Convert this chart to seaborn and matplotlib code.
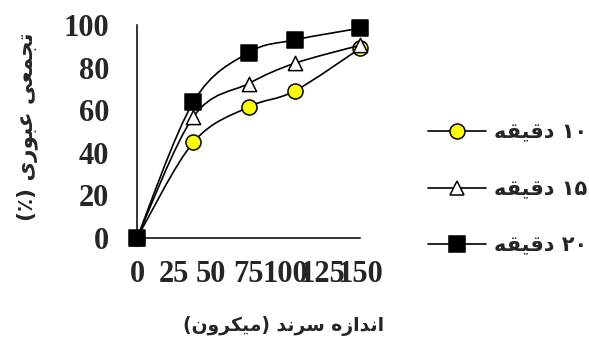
import numpy as np
import pandas as pd
import matplotlib
matplotlib.use("Agg")
import matplotlib.pyplot as plt
from matplotlib.path import Path
from matplotlib.patches import PathPatch
from matplotlib.lines import Line2D
import seaborn as sns

# Sieve size (micron) and cumulative passing (%) for each sieving time
sizes = [0, 38, 75, 106, 150]
pass_10 = [0, 45, 61.5, 69, 89]
pass_15 = [0, 57, 72.5, 82, 90.5]
pass_20 = [0, 64, 87, 93, 98.5]

series_labels = ["۱۰ دقیقه", "۱۵ دقیقه", "۲۰ دقیقه"]
x_ticks = [0, 25, 50, 75, 100, 125, 150]
y_ticks = [0, 20, 40, 60, 80, 100]
x_title = "اندازه سرند (میکرون)"
y_title = "تجمعی عبوری (٪)"

# --- minimal Persian shaping (matplotlib has no text shaping / bidi) ---
FORMS = {  # isolated, final, initial, medial
    "ا": ("\uFE8D", "\uFE8E", None, None),
    "ب": ("\uFE8F", "\uFE90", "\uFE91", "\uFE92"),
    "ت": ("\uFE95", "\uFE96", "\uFE97", "\uFE98"),
    "ج": ("\uFE9D", "\uFE9E", "\uFE9F", "\uFEA0"),
    "د": ("\uFEA9", "\uFEAA", None, None),
    "ر": ("\uFEAD", "\uFEAE", None, None),
    "ز": ("\uFEAF", "\uFEB0", None, None),
    "س": ("\uFEB1", "\uFEB2", "\uFEB3", "\uFEB4"),
    "ع": ("\uFEC9", "\uFECA", "\uFECB", "\uFECC"),
    "ق": ("\uFED5", "\uFED6", "\uFED7", "\uFED8"),
    "ک": ("\uFB8E", "\uFB8F", "\uFB90", "\uFB91"),
    "م": ("\uFEE1", "\uFEE2", "\uFEE3", "\uFEE4"),
    "ن": ("\uFEE5", "\uFEE6", "\uFEE7", "\uFEE8"),
    "ه": ("\uFEE9", "\uFEEA", "\uFEEB", "\uFEEC"),
    "و": ("\uFEED", "\uFEEE", None, None),
    "ی": ("\uFBFC", "\uFBFD", "\uFBFE", "\uFBFF"),
}
DIGITS = set("۰۱۲۳۴۵۶۷۸۹")


def rtl(text):
    glyphs = []
    for i, c in enumerate(text):
        if c not in FORMS:
            glyphs.append(c)
            continue
        iso, fin, ini, med = FORMS[c]
        prev = text[i - 1] if i > 0 else None
        nxt = text[i + 1] if i + 1 < len(text) else None
        j_prev = prev in FORMS and FORMS[prev][2] is not None
        j_next = ini is not None and nxt in FORMS
        if j_prev and j_next:
            glyphs.append(med)
        elif j_prev:
            glyphs.append(fin)
        elif j_next:
            glyphs.append(ini)
        else:
            glyphs.append(iso)
    vis = [{"(": ")", ")": "("}.get(g, g) for g in glyphs[::-1]]
    out, run = [], []
    for g in vis:
        if g in DIGITS:
            run.append(g)
        else:
            out.extend(run[::-1])
            run = []
            out.append(g)
    out.extend(run[::-1])
    return "".join(out)


def smooth_path(xs, ys):
    pts = np.column_stack([xs, ys]).astype(float)
    n = len(pts)
    verts = [pts[0]]
    codes = [Path.MOVETO]
    for i in range(n - 1):
        p_prev = pts[max(i - 1, 0)]
        p0, p1 = pts[i], pts[i + 1]
        p_next = pts[min(i + 2, n - 1)]
        c1 = p0 + (p1 - p_prev) / 6.0
        c2 = p1 - (p_next - p0) / 6.0
        verts += [c1, c2, p1]
        codes += [Path.CURVE4] * 3
    return Path(verts, codes)


sns.set_theme(style="white")
plt.rcParams["font.family"] = ["DejaVu Sans"]

fig = plt.figure(figsize=(5.89, 3.43), dpi=100)
ax = fig.add_axes([137 / 589, 105 / 343, 223 / 589, 213 / 343])

df = pd.DataFrame({
    "size": sizes * 3,
    "passing": pass_10 + pass_15 + pass_20,
    "time": [series_labels[0]] * 5 + [series_labels[1]] * 5 + [series_labels[2]] * 5,
})

styles = [
    dict(marker="o", s=117, color="#FFFF00"),
    dict(marker="^", s=105, color="white"),
    dict(marker="s", s=132, color="black"),
]

for k, (lab, st) in enumerate(zip(series_labels, styles)):
    sub = df[df["time"] == lab]
    ax.add_patch(PathPatch(smooth_path(sub["size"], sub["passing"]),
                           facecolor="none", edgecolor="black", lw=1.2,
                           zorder=2 + k, clip_on=False))
    sns.scatterplot(data=sub, x="size", y="passing", ax=ax, marker=st["marker"],
                    s=st["s"], color=st["color"], edgecolor="black",
                    linewidth=1.1, zorder=3 + k, clip_on=False, legend=False)

ax.set_xlim(0, 150)
ax.set_ylim(0, 100)
ax.set_xticks(x_ticks)
ax.set_yticks(y_ticks)
tick_font = dict(family="Liberation Serif", weight="bold", size=22)
ax.set_xticklabels([str(v) for v in x_ticks], fontdict=tick_font)
ax.set_yticklabels([str(v) for v in y_ticks], fontdict=tick_font)
ax.tick_params(axis="both", length=0)
ax.tick_params(axis="x", pad=16)
ax.tick_params(axis="y", pad=20)

for side in ["top", "right"]:
    ax.spines[side].set_visible(False)
for side in ["left", "bottom"]:
    ax.spines[side].set_color("black")
    ax.spines[side].set_linewidth(1.1)

ax.set_xlabel(rtl(x_title), fontdict=dict(family="DejaVu Sans", weight="bold", size=13.5))
ax.set_ylabel(rtl(y_title), fontdict=dict(family="DejaVu Sans", weight="bold", size=15.5))
ax.xaxis.label.set_va("center")
ax.yaxis.label.set_va("center")
ax.xaxis.set_label_coords((284 - 137) / 223, (238 - 326) / 213)
ax.yaxis.set_label_coords((27 - 137) / 223, (238 - 127) / 213)

handles = [
    Line2D([], [], color="black", lw=1.2, marker="o", markersize=10.8,
           markerfacecolor="#FFFF00", markeredgecolor="black", markeredgewidth=1.1),
    Line2D([], [], color="black", lw=1.2, marker="^", markersize=10,
           markerfacecolor="white", markeredgecolor="black", markeredgewidth=1.1),
    Line2D([], [], color="black", lw=1.2, marker="s", markersize=11,
           markerfacecolor="black", markeredgecolor="black", markeredgewidth=1.1),
]
fig.legend(handles, [rtl(s) for s in series_labels], loc="center left",
           bbox_to_anchor=(428 / 589, 154 / 343), frameon=False,
           borderpad=0, borderaxespad=0, handlelength=2.8, handletextpad=0.35,
           labelspacing=1.75, prop=dict(family="DejaVu Sans", weight="bold", size=15))

fig.savefig("out.png", dpi=100)
